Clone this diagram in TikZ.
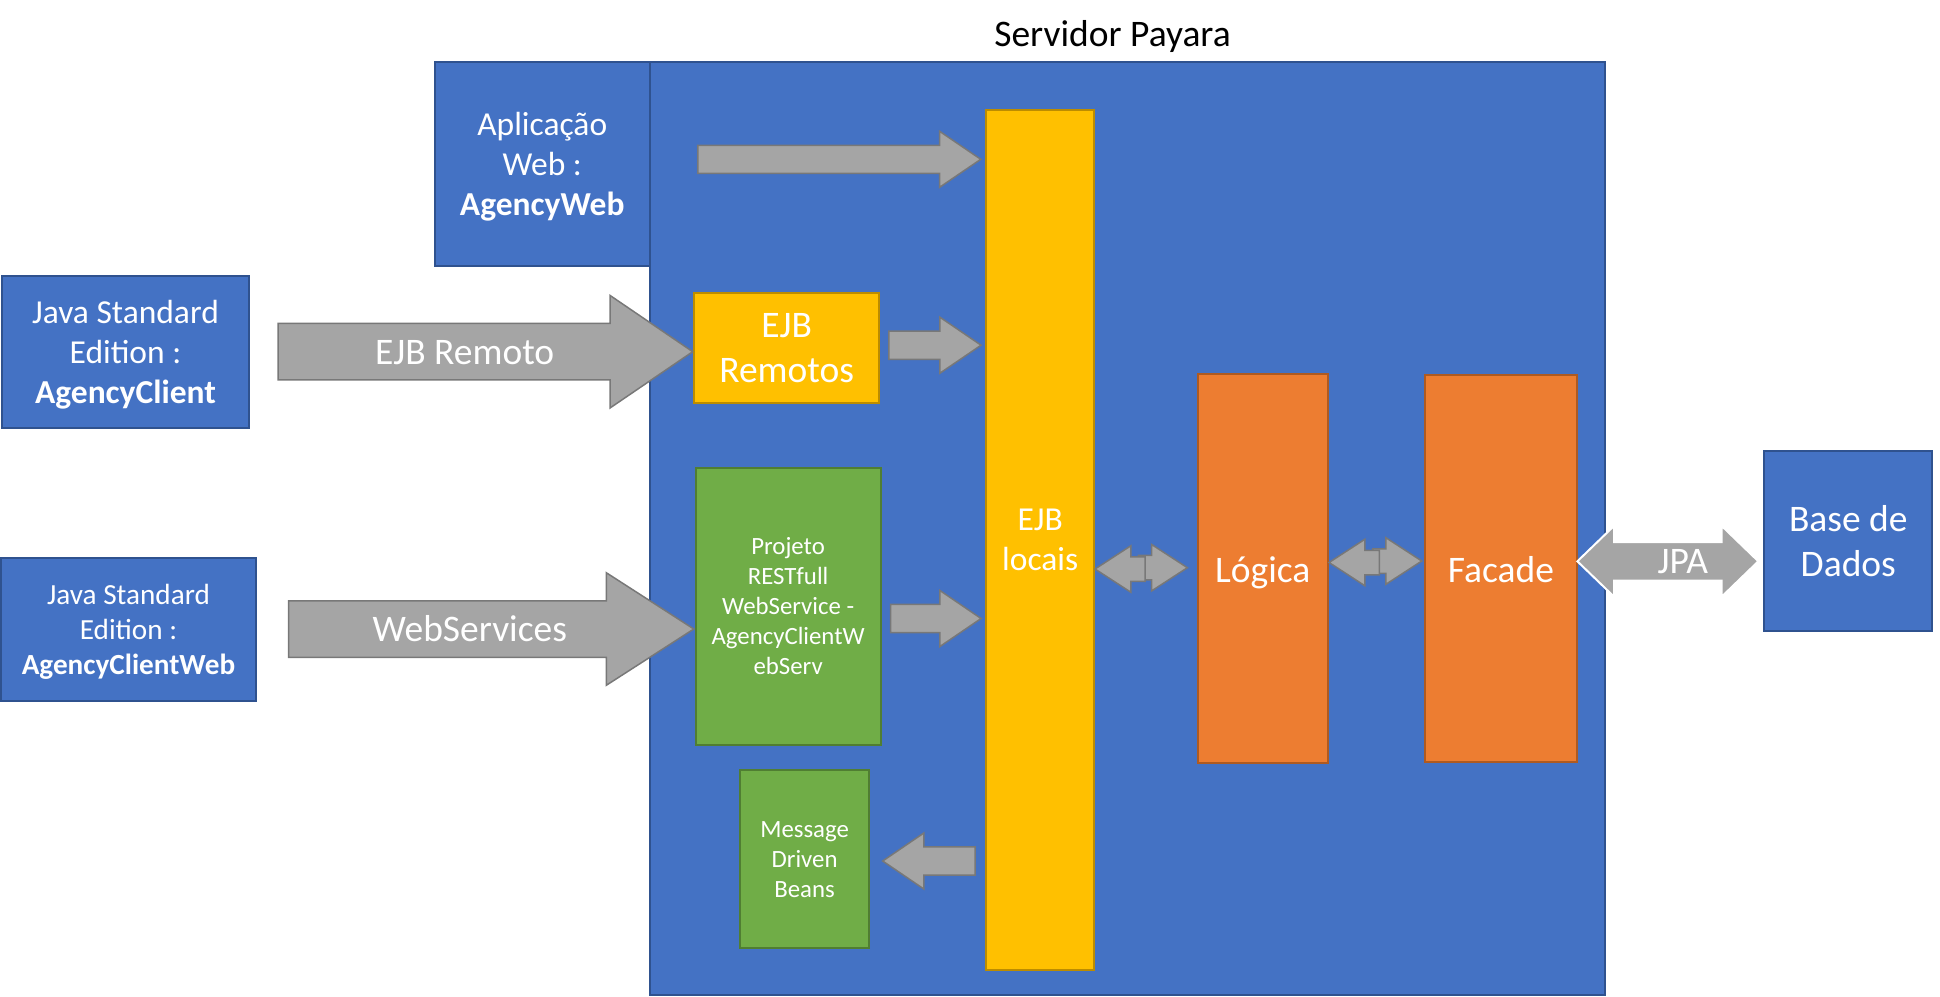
\documentclass[tikz,border=0pt]{standalone}
\usepackage{fontspec}
\setmainfont{Carlito}
\usetikzlibrary{shapes,arrows,positioning,calc}

\definecolor{bluefill}{HTML}{4472C4}
\definecolor{blueline}{HTML}{2F528F}
\definecolor{goldfill}{HTML}{FFC000}
\definecolor{goldline}{HTML}{BC8C00}
\definecolor{orangefill}{HTML}{ED7D31}
\definecolor{orangeline}{HTML}{AE5A21}
\definecolor{greenfill}{HTML}{70AD47}
\definecolor{greenline}{HTML}{507E32}
\definecolor{greyfill}{HTML}{A5A5A5}
\definecolor{greyline}{HTML}{787878}

\newcommand{\fsbig}{\fontsize{37.5}{45}\selectfont}
\newcommand{\fsmid}{\fontsize{33.5}{40}\selectfont}
\newcommand{\fssmall}{\fontsize{29.2}{35}\selectfont}
\newcommand{\fstiny}{\fontsize{24.8}{30}\selectfont}

\begin{document}
\begin{tikzpicture}[x=1pt, y=-1pt]

% Define styles
\tikzstyle{panel} = [rectangle, inner sep=0pt, outer sep=0pt, line width=2pt, text=white, align=center]
\tikzstyle{bigtext} = [font=\fsbig, text depth=-4.5pt]
\tikzstyle{midtext} = [font=\fsmid, text depth=-1.5pt]
\tikzstyle{smalltext} = [font=\fssmall, text depth=-1.5pt]
\tikzstyle{client} = [panel, draw=blueline, fill=bluefill, midtext]
\tikzstyle{ejb} = [panel, draw=goldline, fill=goldfill]
\tikzstyle{tier} = [panel, draw=orangeline, fill=orangefill, font=\fsbig, text height=35.5pt, text depth=7.5pt]
\tikzstyle{module} = [panel, draw=greenline, fill=greenfill, font=\fstiny]
\tikzstyle{flow} = [single arrow, draw=greyline, fill=greyfill, line width=1.5pt, inner xsep=0pt, outer sep=0pt, minimum width=0pt]
\tikzstyle{bigflow} = [flow, inner ysep=27.5pt, single arrow head extend=28pt]
\tikzstyle{smallflow} = [flow, inner ysep=13.3pt, single arrow head extend=14pt, single arrow tip angle=68.5]
\tikzstyle{tinyflow} = [flow, inner ysep=11.5pt, single arrow head extend=11pt, single arrow tip angle=66]
\tikzstyle{dualflow} = [double arrow, draw=white, fill=greyfill, line width=2pt, inner xsep=0pt, inner ysep=18.3pt, outer sep=0pt, minimum width=0pt, double arrow head extend=16.2pt, double arrow tip angle=88]
\tikzstyle{flowtext} = [text=white, font=\fsbig, inner sep=0pt, anchor=base]

\useasboundingbox (0,0) rectangle (1940,996);

% Application server
\node (server) [panel, draw=blueline, fill=bluefill, minimum width=955.5pt, minimum height=933pt, anchor=north west] at (649.5,62) {};
\node (title) [font=\fsbig, inner sep=0pt, above=15.3pt of server.north, anchor=base, xshift=-14.75pt] {Servidor Payara};

% Clients and database
\node (agencyweb) [client, minimum width=214.5pt, minimum height=204pt, anchor=north east] at (server.north west) {Aplicação\\Web :\\\textbf{AgencyWeb}};
\node (agencyclient) [client, minimum width=247pt, minimum height=152pt] at (125.5,352) {Java Standard\\Edition :\\\textbf{AgencyClient}};
\node (agencyclientweb) [client, smalltext, minimum width=255pt, minimum height=143.5pt] at (128.5,629.5) {Java Standard\\Edition :\\\textbf{AgencyClientWeb}};
\node (database) [client, bigtext, minimum width=168pt, minimum height=180.3pt] at (1848.3,540.9) {Base de\\Dados};

% Modules inside the server
\node (remotos) [ejb, bigtext, minimum width=185.4pt, minimum height=110.3pt] at (786.7,347.9) {EJB\\Remotos};
\node (restws) [module, minimum width=185pt, minimum height=277pt, below=64.7pt of remotos, xshift=1.4pt] {Projeto\\RESTfull\\WebService -\\AgencyClientW\\ebServ};
\node (mdb) [module, minimum width=128.6pt, minimum height=178.3pt, below=25.3pt of restws, xshift=16.5pt] {Message\\Driven\\Beans};
\node (ejbloc) [ejb, midtext, minimum width=108.3pt, minimum height=860.3pt] at (1040.2,540.2) {EJB\\locais};
\node (logica) [tier, minimum width=129.5pt, minimum height=388.4pt] at (1262.8,568.5) {Lógica};
\node (facade) [tier, minimum width=152.8pt, minimum height=387pt, right=97pt of logica] {Facade};

% Calls into EJB locais
\node (webarrow) [smallflow, minimum height=283pt, anchor=tip, xshift=-5.3pt] at (ejbloc.west |- 0,159.3) {};
\node (remarrow) [smallflow, minimum height=92.3pt, anchor=tip, xshift=-5pt] at (ejbloc.west |- 0,345.2) {};
\node (restarrow) [smallflow, minimum height=90.5pt, anchor=tip, xshift=-5pt] at (ejbloc.west |- 0,618.5) {};
\node (mdbarrow) [smallflow, shape border rotate=180, minimum height=92.3pt, anchor=tip, xshift=13.8pt] at (mdb.east |- 0,861) {};

% Remote clients
\node (remoto) [bigflow, single arrow tip angle=68.5, minimum height=414.7pt, anchor=tip, xshift=-1.3pt] at (remotos.west |- 0,351.7) {};
\node (remotolbl) [flowtext] at ($(remoto.tail)!0.45!(remoto.tip)+(0,12.5)$) {EJB Remoto};
\node (webservices) [bigflow, single arrow tip angle=65.5, minimum height=405.1pt, anchor=tip, xshift=-1.8pt] at (restws.west |- 0,629) {};
\node (webserviceslbl) [flowtext] at ($(webservices.tail)!0.447!(webservices.tip)+(0,12.5)$) {WebServices};

% EJB locais <-> Logica <-> Facade
\node (tologica) [tinyflow, minimum height=49pt, anchor=tip, xshift=-10.7pt] at (logica.west |- 0,567.7) {};
\node (toejbloc) [tinyflow, shape border rotate=180, minimum height=50pt, anchor=tip, xshift=0.7pt] at (ejbloc.east |- 0,569) {};
\node (tofacade) [tinyflow, minimum height=49pt, anchor=tip, xshift=-2.8pt] at (facade.west |- 0,561) {};
\node (backlogica) [tinyflow, shape border rotate=180, minimum height=50.3pt, anchor=tip, xshift=1.5pt] at (logica.east |- 0,562.5) {};

% Facade <-> database
\node (jpa) [dualflow, minimum height=181pt] at ($(facade.east |- 0,561.3)+(90.5,0)$) {};
\node (jpalbl) [flowtext] at ($(jpa.center)+(15,12)$) {JPA};

\end{tikzpicture}
\end{document}
